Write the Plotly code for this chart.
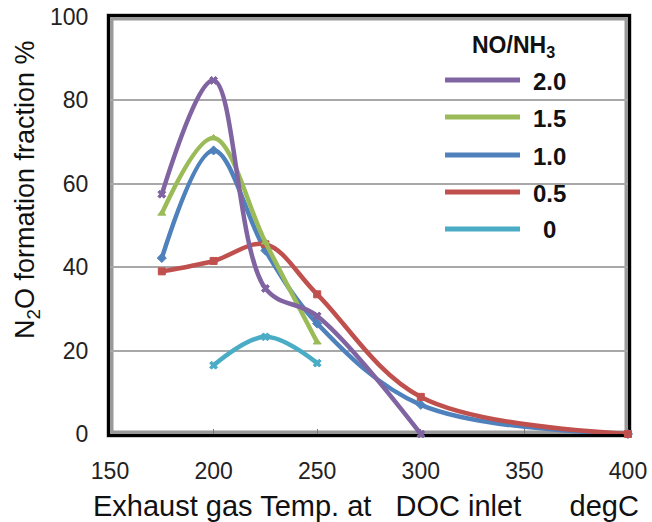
import plotly.graph_objects as go

# Exhaust gas temperature at DOC inlet (degC) for each NO/NH3 ratio series
temp_ratio_2_0 = [175, 200, 225, 250, 300]
n2o_ratio_2_0 = [57.5, 84.8, 34.9, 28.3, 0.0]

temp_ratio_1_5 = [175, 200, 225, 250]
n2o_ratio_1_5 = [52.9, 71.0, 46.0, 22.0]

temp_ratio_1_0 = [175, 200, 225, 250, 300, 400]
n2o_ratio_1_0 = [42.2, 68.0, 44.0, 26.5, 7.0, 0.0]

temp_ratio_0_5 = [175, 200, 225, 250, 300, 400]
n2o_ratio_0_5 = [39.0, 41.5, 45.5, 33.5, 8.9, 0.0]

temp_ratio_0 = [200, 225, 250]
n2o_ratio_0 = [16.5, 23.3, 17.0]

ratio_labels = ["2.0", "1.5", "1.0", "0.5", "0"]
x_ticks = [150, 200, 250, 300, 350, 400]
y_ticks = [0, 20, 40, 60, 80, 100]

PURPLE = "#8064A2"
GREEN = "#9BBB59"
BLUE = "#4F81BD"
RED = "#C0504D"
CYAN = "#4BACC6"

FONT = "Liberation Sans, Arial, sans-serif"

fig = go.Figure()

# drawing order: blue, red, green, purple, cyan
series = [
    (temp_ratio_1_0, n2o_ratio_1_0, BLUE, "diamond", "1.0"),
    (temp_ratio_0_5, n2o_ratio_0_5, RED, "square", "0.5"),
    (temp_ratio_1_5, n2o_ratio_1_5, GREEN, "triangle-up", "1.5"),
    (temp_ratio_2_0, n2o_ratio_2_0, PURPLE, "x", "2.0"),
    (temp_ratio_0, n2o_ratio_0, CYAN, "x", "0"),
]
for xs, ys, color, sym, name in series:
    fig.add_trace(go.Scatter(
        x=xs, y=ys, name=name, mode="lines+markers",
        line=dict(color=color, width=4.5, shape="spline", smoothing=1.0),
        marker=dict(color=color, symbol=sym, size=7,
                    line=dict(color=color, width=1)),
        cliponaxis=False, showlegend=False,
    ))

# plot-area frame: grey halo under a black border
fig.add_shape(type="rect", xref="paper", yref="paper", x0=0, x1=1, y0=0, y1=1,
              line=dict(color="#9a9a9a", width=7), layer="below")

# hand-built legend (lines + labels)
PLOT_L, PLOT_R, PLOT_T, PLOT_B = 110, 628, 17, 434


def px_x(p):
    return (p - PLOT_L) / (PLOT_R - PLOT_L)


def px_y(p):
    return (PLOT_B - p) / (PLOT_B - PLOT_T)


legend_colors = [PURPLE, GREEN, BLUE, RED, CYAN]
legend_rows = [80, 117, 155, 192, 229]
for lab, col, row in zip(ratio_labels, legend_colors, legend_rows):
    fig.add_shape(type="line", xref="paper", yref="paper",
                  x0=px_x(445), x1=px_x(520), y0=px_y(row), y1=px_y(row),
                  line=dict(color=col, width=5))
    fig.add_annotation(x=px_x(549), y=px_y(row + 1), xref="paper", yref="paper",
                       text=f"<b>{lab}</b>", showarrow=False,
                       xanchor="center", yanchor="middle",
                       font=dict(family=FONT, size=24, color="#111111"))
fig.add_annotation(x=px_x(513), y=px_y(46), xref="paper", yref="paper",
                   text="<b>NO/NH<sub>3</sub></b>", showarrow=False,
                   xanchor="center", yanchor="middle",
                   font=dict(family=FONT, size=23, color="#111111"))

# axis titles
fig.add_annotation(x=px_x(27), y=px_y(190), xref="paper", yref="paper",
                   text="N<sub>2</sub>O formation fraction %", textangle=-90,
                   showarrow=False, xanchor="center", yanchor="middle",
                   font=dict(family=FONT, size=27, color="#111111"))
fig.add_annotation(x=px_x(366), y=px_y(506), xref="paper", yref="paper",
                   text="Exhaust gas Temp. at\u00a0\u00a0\u00a0DOC inlet\u00a0\u00a0\u00a0\u00a0\u00a0\u00a0degC",
                   showarrow=False, xanchor="center", yanchor="middle",
                   font=dict(family=FONT, size=29, color="#111111"))

fig.update_xaxes(
    range=[150, 400], tickvals=x_ticks, ticktext=[str(v) for v in x_ticks],
    showgrid=False, zeroline=False, automargin=False,
    showline=True, mirror=True, linecolor="black", linewidth=3,
    ticks="inside", ticklen=5, tickcolor="#777777", tickwidth=1,
    ticklabelstandoff=14,
    tickfont=dict(family=FONT, size=23, color="#222222"),
    layer="below traces",
)
fig.update_yaxes(
    range=[0, 100], tickvals=y_ticks, ticktext=[str(v) for v in y_ticks],
    showgrid=True, gridcolor="#a8a8a8", gridwidth=1.5, zeroline=False,
    automargin=False,
    showline=True, mirror=True, linecolor="black", linewidth=3,
    ticks="", ticklabelstandoff=14,
    tickfont=dict(family=FONT, size=23, color="#222222"),
    layer="below traces",
)

fig.update_layout(
    width=652, height=522,
    margin=dict(l=PLOT_L, r=652 - PLOT_R, t=PLOT_T, b=522 - PLOT_B,
                autoexpand=False),
    paper_bgcolor="white", plot_bgcolor="white",
    showlegend=False,
)

fig.write_html("out.html")
